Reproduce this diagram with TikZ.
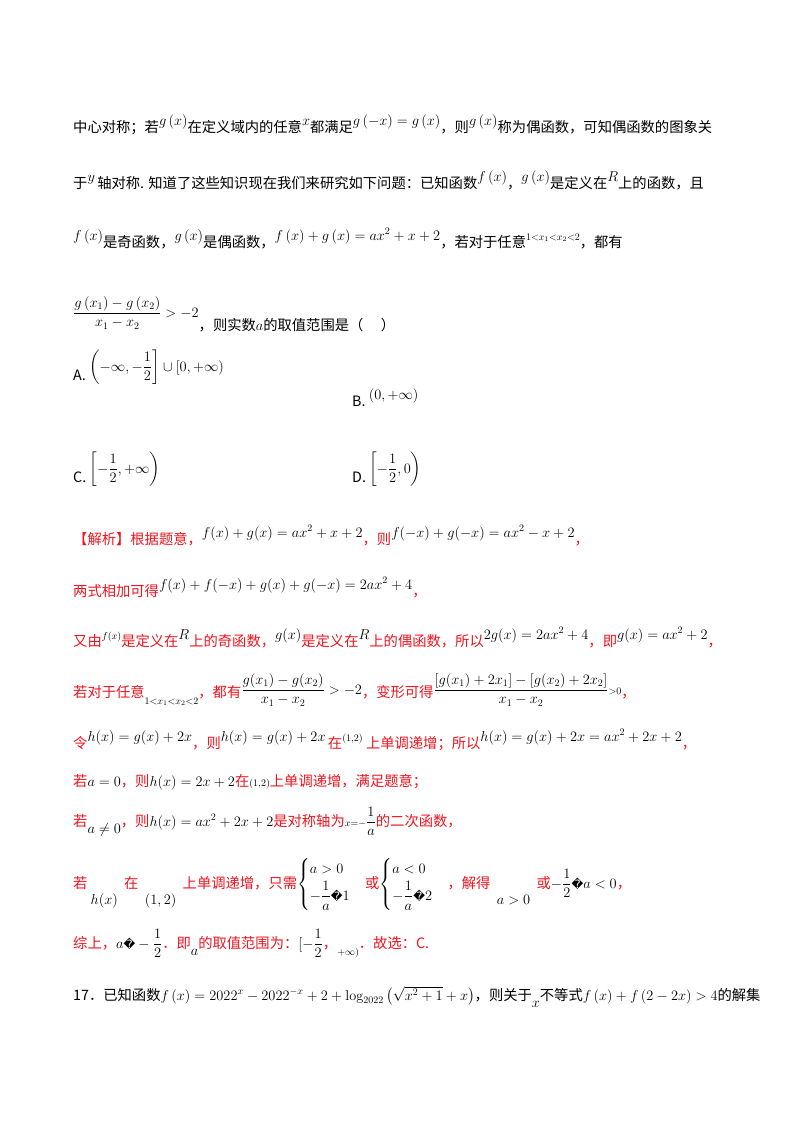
\documentclass[tikz,border=0pt]{standalone}
\usepackage{amsmath}
\usepackage{fontspec}
\newfontfamily\cjk{Noto Sans CJK SC}
\newfontfamily\djv{DejaVu Sans}
\definecolor{rd}{RGB}{240,20,30}
\newcommand{\U}[1]{\raisebox{7pt}{$#1$}}
\newcommand{\D}[1]{\raisebox{-7pt}{$#1$}}
\newcommand{\Rd}[1]{{\color{rd}#1}}
\newcommand{\qm}{\text{\djv\scalebox{0.8}{�}}}
\begin{document}
\begin{tikzpicture}[x=1pt,y=-1pt,every node/.style={anchor=base west,inner sep=0pt,font=\cjk\fontsize{14.3}{17}\selectfont}]
\useasboundingbox (0,0) rectangle (800,1132);
\fill[white] (0,0) rectangle (800,1132);
\node (l1) at (73,132) {中心对称；若\U{g\left(x\right)}在定义域内的任意\U{x}都满足\U{g\left(-x\right)=g\left(x\right)}，则\U{g\left(x\right)}称为偶函数，可知偶函数的图象关};
\node (l2) at (73,188) {于\U{y}\,轴对称. 知道了这些知识现在我们来研究如下问题：已知函数\U{f\left(x\right)}，\U{g\left(x\right)}是定义在\U{R}上的函数，且};
\node (l3) at (73,247) {\U{f\left(x\right)}是奇函数，\U{g\left(x\right)}是偶函数，\U{f\left(x\right)+g\left(x\right)=ax^2+x+2}，若对于任意\U{\scriptstyle 1<x_1<x_2<2}，都有};
\node (l4) at (73,330) {\raisebox{13pt}{$\dfrac{g\left(x_1\right)-g\left(x_2\right)}{x_1-x_2}>-2$}，则实数$a$的取值范围是（\quad\ ）};
\node (oA) at (73,380) {A.\ \raisebox{9pt}{$\left(-\infty,-\dfrac12\right]\cup\left[0,+\infty\right)$}};
\node (oB) at (352,406) {B.\ \U{\left(0,+\infty\right)}};
\node (oC) at (73,482) {C.\ \raisebox{9pt}{$\left[-\dfrac12,+\infty\right)$}};
\node (oD) at (352,482) {D.\ \raisebox{9pt}{$\left[-\dfrac12,0\right)$}};
\node (s1) at (73,544) {\Rd{【解析】根据题意，}\U{f(x)+g(x)=ax^2+x+2}\Rd{，则}\U{f(-x)+g(-x)=ax^2-x+2}\Rd{，}};
\node (s2) at (73,596) {\Rd{两式相加可得}\U{f(x)+f(-x)+g(x)+g(-x)=2ax^2+4}\Rd{，}};
\node (s3) at (73,646) {\Rd{又由}\U{\scriptstyle f(x)}\Rd{是定义在}\U{R}\Rd{上的奇函数，}\U{g(x)}\Rd{是定义在}\U{R}\Rd{上的偶函数，所以}\U{2g(x)=2ax^2+4}\Rd{，即}\U{g(x)=ax^2+2}\Rd{，}};
\node (s4) at (73,697) {\Rd{若对于任意}\D{\scriptstyle 1<x_1<x_2<2}\Rd{，都有}\raisebox{3pt}{$\dfrac{g(x_1)-g(x_2)}{x_1-x_2}>-2$}\Rd{，变形可得}\raisebox{3pt}{$\dfrac{[g(x_1)+2x_1]-[g(x_2)+2x_2]}{x_1-x_2}\scriptstyle>0$}\Rd{，}};
\node (s5) at (73,748) {\Rd{令}\U{h(x)=g(x)+2x}\Rd{，则}\U{h(x)=g(x)+2x}\Rd{\,在}\U{\scriptstyle(1,2)}\Rd{\ 上单调递增；所以}\U{h(x)=g(x)+2x=ax^2+2x+2}\Rd{，}};
\node (s6) at (73,786) {\Rd{若}$a=0$\Rd{，则}$h(x)=2x+2$\Rd{在}$\scriptstyle(1,2)$\Rd{上单调递增，满足题意；}};
\node (s7) at (73,826) {\Rd{若}\D{a\neq0}\Rd{，则}$h(x)=ax^2+2x+2$\Rd{是对称轴为}$\scriptstyle x=-\dfrac{1}{a}$\Rd{的二次函数，}};
\node (s8) at (73,888) {\Rd{若}\raisebox{-16pt}{$\ h(x)$}\Rd{\ \ 在}\raisebox{-16pt}{$\ \ (1,2)$}\Rd{\ \ 上单调递增，只需}$\begin{cases}a>0\\[2pt]-\dfrac{1}{a}\qm1\end{cases}$\Rd{或}$\begin{cases}a<0\\[2pt]-\dfrac{1}{a}\qm2\end{cases}$\Rd{，解得}\raisebox{-16pt}{$\ \ a>0$}\Rd{\ \ 或}$-\dfrac12\qm a<0$\Rd{，}};
\node (s9) at (73,948) {\Rd{综上，}$a\qm-\dfrac12$\Rd{．即}\D{a}\Rd{的取值范围为：}$[-\dfrac12$\Rd{，}\D{\scriptstyle+\infty)}\Rd{．故选：C.}};
\node (q17) at (73,1000) {17．已知函数$f\left(x\right)=2022^x-2022^{-x}+2+\log_{2022}\left(\sqrt{x^2+1}+x\right)$，则关于\D{x}不等式$f\left(x\right)+f\left(2-2x\right)>4$的解集};
\end{tikzpicture}
\end{document}
